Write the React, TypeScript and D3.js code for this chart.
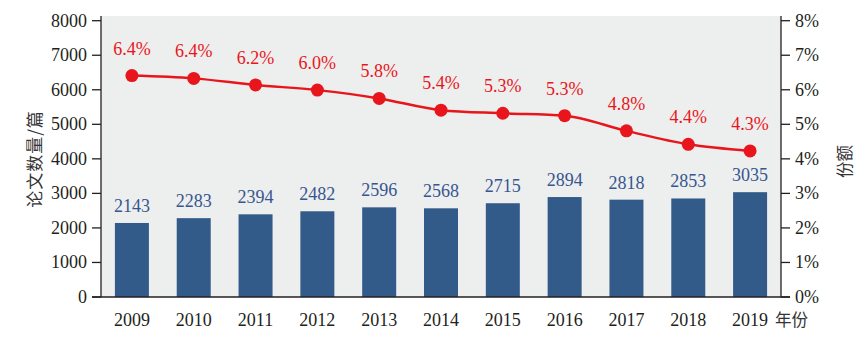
import * as d3 from "d3";

const years = ["2009", "2010", "2011", "2012", "2013", "2014", "2015", "2016", "2017", "2018", "2019"];
const papers = [2143, 2283, 2394, 2482, 2596, 2568, 2715, 2894, 2818, 2853, 3035];
// plotted share (%) and the printed label
const share = [6.41, 6.33, 6.14, 5.99, 5.75, 5.41, 5.32, 5.25, 4.81, 4.42, 4.23];
const shareLabels = ["6.4%", "6.4%", "6.2%", "6.0%", "5.8%", "5.4%", "5.3%", "5.3%", "4.8%", "4.4%", "4.3%"];
const leftTicks = [0, 1000, 2000, 3000, 4000, 5000, 6000, 7000, 8000];
const rightTicks = [0, 1, 2, 3, 4, 5, 6, 7, 8];

const width = 866;
const height = 354;
const x0 = 101;
const x1 = 781;
const yTop = 20.7;
const yBottom = 297;

const serif = "'Liberation Serif', 'Times New Roman', serif";
const cjk = "'Noto Sans CJK SC', sans-serif";
const ink = "#231f20";
const barColor = "#335b8a";
const labelBlue = "#37568f";
const red = "#e8161c";

export default function App() {
  const x = d3
    .scaleBand()
    .domain(years)
    .range([x0, x1])
    .paddingInner(0.45)
    .paddingOuter(0.225);

  const yLeft = d3.scaleLinear().domain([0, 8000]).range([yBottom, yTop]);
  const yRight = d3.scaleLinear().domain([0, 8]).range([yBottom, yTop]);

  const cx = (y: string) => (x(y) || 0) + x.bandwidth() / 2;

  const line = d3
    .line<number>()
    .x((_, i) => cx(years[i]))
    .y((d) => yRight(d))
    .curve(d3.curveMonotoneX);

  return (
    <div style={{ position: "absolute", left: 0, top: 0 }}>
      <svg width={width} height={height} style={{ display: "block", background: "#fff" }}>
        {/* plot background */}
        <rect x={x0} y={16} width={x1 - x0} height={yBottom - 16} fill="#edeeee" />

        {/* bars */}
        {papers.map((v, i) => (
          <rect
            key={years[i]}
            x={x(years[i])}
            y={yLeft(v)}
            width={x.bandwidth()}
            height={yBottom - yLeft(v)}
            fill={barColor}
          />
        ))}

        {/* bar labels */}
        {papers.map((v, i) => (
          <text
            key={`bl-${years[i]}`}
            x={cx(years[i])}
            y={yLeft(v) - 11}
            textAnchor="middle"
            fontFamily={serif}
            fontSize={18}
            fill={labelBlue}
          >
            {v}
          </text>
        ))}

        {/* share line */}
        <path d={line(share) || ""} fill="none" stroke={red} strokeWidth={2.5} />
        {share.map((v, i) => (
          <circle key={`pt-${years[i]}`} cx={cx(years[i])} cy={yRight(v)} r={6.5} fill={red} />
        ))}
        {share.map((v, i) => (
          <text
            key={`sl-${years[i]}`}
            x={cx(years[i])}
            y={yRight(v) - 21}
            textAnchor="middle"
            fontFamily={serif}
            fontSize={18}
            fill={red}
          >
            {shareLabels[i]}
          </text>
        ))}

        {/* axes lines */}
        <line x1={x0} x2={x0} y1={16} y2={yBottom} stroke={ink} strokeWidth={1.3} />
        <line x1={x1} x2={x1} y1={16} y2={yBottom} stroke={ink} strokeWidth={1.3} />
        <line x1={92} x2={790} y1={yBottom} y2={yBottom} stroke={ink} strokeWidth={1.3} />

        {/* left ticks */}
        {leftTicks.map((t) => (
          <g key={`lt-${t}`}>
            <line x1={92} x2={x0} y1={yLeft(t)} y2={yLeft(t)} stroke={ink} strokeWidth={1.3} />
            <text
              x={87}
              y={yLeft(t)}
              dy="0.33em"
              textAnchor="end"
              fontFamily={serif}
              fontSize={18}
              fill={ink}
            >
              {t}
            </text>
          </g>
        ))}

        {/* right ticks */}
        {rightTicks.map((t) => (
          <g key={`rt-${t}`}>
            <line x1={x1} x2={790} y1={yRight(t)} y2={yRight(t)} stroke={ink} strokeWidth={1.3} />
            <text
              x={795}
              y={yRight(t)}
              dy="0.33em"
              textAnchor="start"
              fontFamily={serif}
              fontSize={18}
              fill={ink}
            >
              {t}%
            </text>
          </g>
        ))}

        {/* x labels */}
        {years.map((y) => (
          <text
            key={`xl-${y}`}
            x={cx(y)}
            y={326}
            textAnchor="middle"
            fontFamily={serif}
            fontSize={18}
            fill={ink}
          >
            {y}
          </text>
        ))}
        <text x={775} y={326} fontFamily={cjk} fontSize={16.5} fill="#333">
          年份
        </text>

        {/* axis titles */}
        <text
          transform="translate(33,159) rotate(-90)"
          textAnchor="middle"
          dominantBaseline="central"
          fontFamily={cjk}
          fontSize={17}
          letterSpacing={1}
          fill="#333"
        >
          论文数量/篇
        </text>
        <text
          transform="translate(844,161.5) rotate(-90)"
          textAnchor="middle"
          dominantBaseline="central"
          fontFamily={cjk}
          fontSize={16.5}
          fill="#333"
        >
          份额
        </text>
      </svg>
    </div>
  );
}
